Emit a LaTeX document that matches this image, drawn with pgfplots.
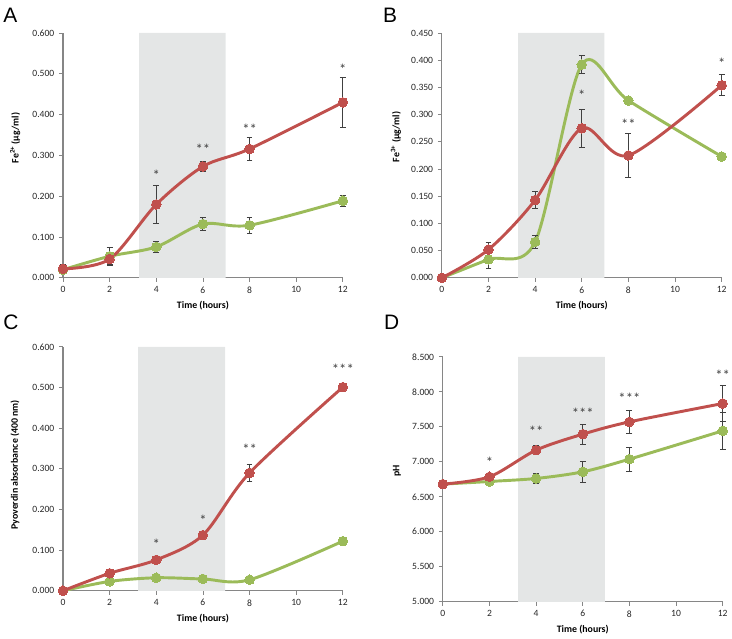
\documentclass[border=0pt]{standalone}
\usepackage{fontspec}
\setmainfont{Carlito}
\newfontfamily\panelfont{Liberation Sans}
\usepackage{pgfplots}
\usepackage{pgfplotstable}
\pgfplotsset{compat=1.18}

\definecolor{redline}{RGB}{192,80,77}
\definecolor{greenline}{RGB}{155,187,89}
\definecolor{shade}{RGB}{228,230,230}
\definecolor{axgray}{RGB}{134,134,134}

% panel A: Fe2+
\pgfplotstableread{
t v e
0 0.020 0.010
2 0.053 0.022
4 0.076 0.013
6 0.132 0.015
8 0.129 0.019
12 0.189 0.013
}\Agreen
\pgfplotstableread{
t v e
0 0.022 0.011
2 0.046 0.014
4 0.180 0.047
6 0.273 0.012
8 0.316 0.028
12 0.430 0.062
}\Ared
% panel B: Fe3+
\pgfplotstableread{
t v e
0 0.000 0
2 0.034 0.016
4 0.066 0.012
6 0.392 0.016
8 0.326 0
12 0.223 0
}\Bgreen
\pgfplotstableread{
t v e
0 0.000 0
2 0.052 0.013
4 0.143 0.016
6 0.275 0.035
8 0.225 0.040
12 0.354 0.019
}\Bred
% panel C: pyoverdin
\pgfplotstableread{
t v e
0 0.000 0
2 0.023 0
4 0.032 0
6 0.029 0
8 0.027 0
12 0.122 0
}\Cgreen
\pgfplotstableread{
t v e
0 0.000 0
2 0.043 0.008
4 0.076 0
6 0.137 0
8 0.290 0.020
12 0.501 0
}\Cred
% panel D: pH
\pgfplotstableread{
t v e
0 6.681 0
2 6.719 0
4 6.762 0.070
6 6.857 0.150
8 7.038 0.170
12 7.443 0.260
}\Dgreen
\pgfplotstableread{
t v e
0 6.681 0
2 6.786 0
4 7.167 0.060
6 7.395 0.145
8 7.571 0.170
12 7.833 0.260
}\Dred

\pgfplotsset{
  panel/.style={
    scale only axis, width=210pt, height=183.75pt,
    anchor=south west, clip=false,
    axis lines=left, axis line style={-, draw=axgray, line width=0.8pt},
    tick align=outside, major tick length=3pt,
    tick style={axgray, line width=0.6pt},
    xmin=0, xmax=12, xtick={0,2,...,12},
    tick label style={font=\fontsize{7.2}{8}\selectfont, text=black!85},
    /pgf/number format/assume math mode=true,
    yticklabel style={/pgf/number format/.cd, fixed, fixed zerofill, precision=3},
    label style={font=\bfseries\fontsize{7.4}{8}\selectfont},
    xlabel={Time (hours)},
    xlabel style={at={(axis description cs:0.5,-0.114)}, anchor=center},
  },
  % error bars alone; rows without an error are dropped
  errs/.style={draw=none, mark=none, forget plot, unbounded coords=discard,
    y filter/.expression={\thisrow{e}==0 ? nan : y},
    error bars/.cd, y dir=both, y explicit,
    error bar style={black!75, line width=0.7pt},
    error mark options={rotate=90, mark size=2.2pt, black!75, line width=0.7pt}},
  ser/.style={color=#1, line width=2.2pt, smooth, mark=*, mark size=3.6pt,
    mark options={solid, fill=#1, draw=#1, line width=0pt}},
  stars/.style={draw=none, mark=none, nodes near coords, point meta=explicit symbolic,
    nodes near coords style={anchor=center, inner sep=0pt,
      font=\fontsize{11}{11}\selectfont, text=black!75}},
}

\begin{document}
\begin{tikzpicture}
\path (0pt,0pt) rectangle (549pt,-478.5pt);

\node[anchor=base west, inner sep=0pt, font=\panelfont\fontsize{15.7}{16}\selectfont] at (2.25pt,-17.25pt) {A};
\node[anchor=base west, inner sep=0pt, font=\panelfont\fontsize{15.7}{16}\selectfont] at (287.25pt,-17.25pt) {B};
\node[anchor=base west, inner sep=0pt, font=\panelfont\fontsize{15.7}{16}\selectfont] at (2.25pt,-247.5pt) {C};
\node[anchor=base west, inner sep=0pt, font=\panelfont\fontsize{15.7}{16}\selectfont] at (288pt,-247.5pt) {D};

\begin{axis}[panel, at={(47.25pt,-208.5pt)},
  ymin=0, ymax=0.6, ytick={0,0.1,0.2,0.3,0.4,0.5,0.6},
  ylabel={Fe\textsuperscript{2+} (µg/ml)},
  ylabel style={at={(axis description cs:-0.171,0.571)}, anchor=center}]
\addplot[fill=shade, draw=none] coordinates {(3.27,0) (6.97,0) (6.97,0.6) (3.27,0.6)} \closedcycle;
\addplot[ser=greenline] table[x=t, y=v] \Agreen;
\addplot[ser=redline] table[x=t, y=v] \Ared;
\addplot[errs] table[x=t, y=v, y error=e] \Agreen;
\addplot[errs] table[x=t, y=v, y error=e] \Ared;
\addplot[stars] coordinates {(4,0.251)[*] (6,0.315)[**] (8,0.364)[**] (12,0.511)[*]};
\end{axis}

\begin{axis}[panel, at={(331.5pt,-208.5pt)},
  ymin=0, ymax=0.45, ytick={0,0.05,0.1,0.15,0.2,0.25,0.3,0.35,0.4,0.45},
  ylabel={Fe\textsuperscript{3+} (µg/ml)},
  ylabel style={at={(axis description cs:-0.164,0.576)}, anchor=center}]
\addplot[fill=shade, draw=none] coordinates {(3.27,0) (6.97,0) (6.97,0.45) (3.27,0.45)} \closedcycle;
\addplot[ser=greenline] table[x=t, y=v] \Bgreen;
\addplot[ser=redline] table[x=t, y=v] \Bred;
\addplot[errs] table[x=t, y=v, y error=e] \Bgreen;
\addplot[errs] table[x=t, y=v, y error=e] \Bred;
\addplot[stars] coordinates {(6,0.336)[*] (8,0.283)[**] (12,0.394)[*]};
\end{axis}

\begin{axis}[panel, at={(47.25pt,-443.25pt)}, height=183pt,
  ymin=0, ymax=0.6, ytick={0,0.1,0.2,0.3,0.4,0.5,0.6},
  ylabel={Pyoverdin absorbance (400 nm)},
  ylabel style={at={(axis description cs:-0.171,0.516)}, anchor=center}]
\addplot[fill=shade, draw=none] coordinates {(3.22,0) (6.95,0) (6.95,0.6) (3.22,0.6)} \closedcycle;
\addplot[ser=greenline] table[x=t, y=v] \Cgreen;
\addplot[ser=redline] table[x=t, y=v] \Cred;
\addplot[errs] table[x=t, y=v, y error=e] \Cred;
\addplot[stars] coordinates {(4,0.114)[*] (6,0.174)[*] (8,0.348)[**] (12,0.544)[***]};
\end{axis}

\begin{axis}[panel, at={(332.25pt,-451.5pt)},
  ymin=5, ymax=8.5, ytick={5,5.5,6,6.5,7,7.5,8,8.5},
  ylabel={pH},
  ylabel style={at={(axis description cs:-0.164,0.535)}, anchor=center}]
\addplot[fill=shade, draw=none] coordinates {(3.23,5) (6.95,5) (6.95,8.5) (3.23,8.5)} \closedcycle;
\addplot[ser=greenline] table[x=t, y=v] \Dgreen;
\addplot[ser=redline] table[x=t, y=v] \Dred;
\addplot[errs] table[x=t, y=v, y error=e] \Dgreen;
\addplot[errs] table[x=t, y=v, y error=e] \Dred;
\addplot[stars] coordinates {(2,6.99)[*] (4,7.43)[**] (6,7.70)[***] (8,7.91)[***] (12,8.23)[**]};
\end{axis}
\end{tikzpicture}
\end{document}
